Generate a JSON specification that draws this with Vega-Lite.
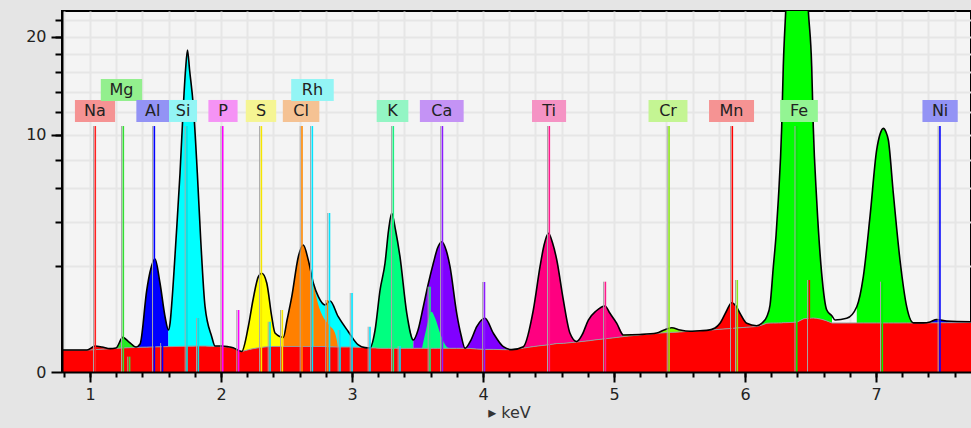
{
"$schema":"https://vega.github.io/schema/vega-lite/v6.json",
"width":909,"height":361,
"autosize":{"type":"none"},
"padding":{"left":62,"top":11,"right":0,"bottom":56},
"background":"#e5e5e5",
"config":{"view":{"stroke":"black","strokeWidth":2,"fill":"#f4f4f4"},"axis":{"labelFont":"DejaVu Sans","titleFont":"DejaVu Sans","labelColor":"#222","titleColor":"#333"}},
"datasets":{
"spec":[
{"e":0.786,"t":0.086,"b":0.086,"s":1,"el":"Na"},{"e":0.977,"t":0.086,"b":0.086,"s":1,"el":"Na"},{"e":1.038,"t":0.120,"b":0.089,"s":1,"el":"Na"},{"e":1.092,"t":0.111,"b":0.093,"s":1,"el":"Na"},{"e":1.153,"t":0.097,"b":0.097,"s":1,"el":"Na"},
{"e":1.153,"t":0.097,"b":0.097,"s":2,"el":"Mg"},{"e":1.198,"t":0.102,"b":0.100,"s":2,"el":"Mg"},{"e":1.250,"t":0.214,"b":0.103,"s":2,"el":"Mg"},{"e":1.298,"t":0.160,"b":0.105,"s":2,"el":"Mg"},{"e":1.351,"t":0.111,"b":0.107,"s":2,"el":"Mg"},
{"e":1.351,"t":0.111,"b":0.107,"s":3,"el":"Al"},{"e":1.382,"t":0.140,"b":0.109,"s":3,"el":"Al"},{"e":1.433,"t":1.197,"b":0.110,"s":3,"el":"Al"},{"e":1.458,"t":1.780,"b":0.111,"s":3,"el":"Al"},{"e":1.496,"t":2.273,"b":0.112,"s":3,"el":"Al"},{"e":1.534,"t":1.410,"b":0.113,"s":3,"el":"Al"},{"e":1.573,"t":0.539,"b":0.114,"s":3,"el":"Al"},{"e":1.598,"t":0.314,"b":0.115,"s":3,"el":"Al"},
{"e":1.598,"t":0.314,"b":0.115,"s":4,"el":"Si"},{"e":1.611,"t":0.427,"b":0.115,"s":4,"el":"Si"},{"e":1.626,"t":0.923,"b":0.115,"s":4,"el":"Si"},{"e":1.656,"t":3.102,"b":0.116,"s":4,"el":"Si"},{"e":1.687,"t":7.050,"b":0.117,"s":4,"el":"Si"},{"e":1.712,"t":12.53,"b":0.117,"s":4,"el":"Si"},{"e":1.729,"t":16.24,"b":0.118,"s":4,"el":"Si"},{"e":1.744,"t":18.46,"b":0.118,"s":4,"el":"Si"},{"e":1.760,"t":16.24,"b":0.119,"s":4,"el":"Si"},{"e":1.789,"t":12.53,"b":0.119,"s":4,"el":"Si"},{"e":1.819,"t":7.050,"b":0.120,"s":4,"el":"Si"},{"e":1.845,"t":3.102,"b":0.120,"s":4,"el":"Si"},{"e":1.878,"t":0.759,"b":0.120,"s":4,"el":"Si"},{"e":1.929,"t":0.222,"b":0.117,"s":4,"el":"Si"},{"e":1.954,"t":0.120,"b":0.116,"s":4,"el":"Si"},
{"e":1.954,"t":0.120,"b":0.116,"s":5,"el":"P"},{"e":2.008,"t":0.120,"b":0.114,"s":5,"el":"P"},{"e":2.053,"t":0.114,"b":0.112,"s":5,"el":"P"},{"e":2.092,"t":0.105,"b":0.105,"s":5,"el":"P"},{"e":2.158,"t":0.075,"b":0.075,"s":5,"el":"P"},
{"e":2.158,"t":0.075,"b":0.075,"s":6,"el":"S"},{"e":2.208,"t":0.365,"b":0.088,"s":6,"el":"S"},{"e":2.244,"t":0.923,"b":0.097,"s":6,"el":"S"},{"e":2.285,"t":1.617,"b":0.104,"s":6,"el":"S"},{"e":2.311,"t":1.734,"b":0.108,"s":6,"el":"S"},{"e":2.349,"t":1.410,"b":0.113,"s":6,"el":"S"},{"e":2.387,"t":0.544,"b":0.116,"s":6,"el":"S"},{"e":2.412,"t":0.271,"b":0.116,"s":6,"el":"S"},{"e":2.476,"t":0.214,"b":0.116,"s":6,"el":"S"},
{"e":2.476,"t":0.214,"b":0.116,"s":7,"el":"Cl"},{"e":2.504,"t":0.481,"b":0.116,"s":7,"el":"Cl"},{"e":2.540,"t":1.009,"b":0.116,"s":7,"el":"Cl"},{"e":2.590,"t":2.367,"b":0.116,"s":7,"el":"Cl"},{"e":2.628,"t":2.871,"b":0.116,"s":7,"el":"Cl"},{"e":2.666,"t":2.233,"b":0.116,"s":7,"el":"Cl"},{"e":2.705,"t":1.401,"b":0.116,"s":7,"el":"Cl"},
{"e":2.705,"t":1.401,"b":0.116,"s":8,"el":"Rh"},{"e":2.743,"t":1.009,"b":0.116,"s":8,"el":"Rh"},{"e":2.794,"t":0.799,"b":0.115,"s":8,"el":"Rh"},{"e":2.832,"t":0.897,"b":0.113,"s":8,"el":"Rh"},{"e":2.895,"t":0.544,"b":0.111,"s":8,"el":"Rh"},{"e":2.972,"t":0.289,"b":0.111,"s":8,"el":"Rh"},{"e":3.048,"t":0.130,"b":0.109,"s":8,"el":"Rh"},{"e":3.099,"t":0.106,"b":0.106,"s":8,"el":"Rh"},{"e":3.137,"t":0.104,"b":0.104,"s":8,"el":"Rh"},
{"e":3.137,"t":0.104,"b":0.104,"s":9,"el":"K"},{"e":3.176,"t":0.314,"b":0.103,"s":9,"el":"K"},{"e":3.214,"t":1.197,"b":0.100,"s":9,"el":"K"},{"e":3.252,"t":2.115,"b":0.100,"s":9,"el":"K"},{"e":3.279,"t":3.590,"b":0.100,"s":9,"el":"K"},{"e":3.303,"t":4.483,"b":0.100,"s":9,"el":"K"},{"e":3.332,"t":3.590,"b":0.100,"s":9,"el":"K"},{"e":3.366,"t":2.367,"b":0.100,"s":9,"el":"K"},{"e":3.418,"t":0.613,"b":0.100,"s":9,"el":"K"},{"e":3.468,"t":0.182,"b":0.100,"s":9,"el":"K"},
{"e":3.468,"t":0.182,"b":0.100,"s":10,"el":"Ca"},{"e":3.504,"t":0.314,"b":0.100,"s":10,"el":"Ca"},{"e":3.544,"t":0.759,"b":0.100,"s":10,"el":"Ca"},{"e":3.580,"t":1.347,"b":0.100,"s":10,"el":"Ca"},{"e":3.621,"t":2.115,"b":0.100,"s":10,"el":"Ca"},{"e":3.653,"t":2.737,"b":0.100,"s":10,"el":"Ca"},{"e":3.685,"t":3.022,"b":0.100,"s":10,"el":"Ca"},{"e":3.718,"t":2.650,"b":0.100,"s":10,"el":"Ca"},{"e":3.748,"t":1.974,"b":0.100,"s":10,"el":"Ca"},{"e":3.799,"t":0.613,"b":0.100,"s":10,"el":"Ca"},{"e":3.832,"t":0.244,"b":0.100,"s":10,"el":"Ca"},{"e":3.863,"t":0.100,"b":0.100,"s":10,"el":"Ca"},{"e":3.908,"t":0.182,"b":0.098,"s":10,"el":"Ca"},{"e":3.952,"t":0.365,"b":0.094,"s":10,"el":"Ca"},{"e":4.015,"t":0.513,"b":0.091,"s":10,"el":"Ca"},{"e":4.079,"t":0.267,"b":0.091,"s":10,"el":"Ca"},{"e":4.155,"t":0.114,"b":0.089,"s":10,"el":"Ca"},{"e":4.219,"t":0.089,"b":0.089,"s":10,"el":"Ca"},
{"e":4.219,"t":0.089,"b":0.089,"s":11,"el":"Ti"},{"e":4.308,"t":0.114,"b":0.102,"s":11,"el":"Ti"},{"e":4.384,"t":0.684,"b":0.115,"s":11,"el":"Ti"},{"e":4.435,"t":1.974,"b":0.123,"s":11,"el":"Ti"},{"e":4.466,"t":2.871,"b":0.127,"s":11,"el":"Ti"},{"e":4.499,"t":3.425,"b":0.132,"s":11,"el":"Ti"},{"e":4.531,"t":2.963,"b":0.138,"s":11,"el":"Ti"},{"e":4.563,"t":2.233,"b":0.144,"s":11,"el":"Ti"},{"e":4.613,"t":0.923,"b":0.146,"s":11,"el":"Ti"},{"e":4.664,"t":0.267,"b":0.153,"s":11,"el":"Ti"},{"e":4.715,"t":0.165,"b":0.160,"s":11,"el":"Ti"},{"e":4.756,"t":0.244,"b":0.166,"s":11,"el":"Ti"},{"e":4.804,"t":0.481,"b":0.173,"s":11,"el":"Ti"},{"e":4.863,"t":0.662,"b":0.185,"s":11,"el":"Ti"},{"e":4.931,"t":0.776,"b":0.196,"s":11,"el":"Ti"},{"e":4.969,"t":0.613,"b":0.203,"s":11,"el":"Ti"},{"e":5.021,"t":0.422,"b":0.213,"s":11,"el":"Ti"},{"e":5.071,"t":0.244,"b":0.223,"s":11,"el":"Ti"},
{"e":5.071,"t":0.244,"b":0.223,"s":12,"el":"Cr"},{"e":5.198,"t":0.250,"b":0.245,"s":12,"el":"Cr"},{"e":5.326,"t":0.270,"b":0.267,"s":12,"el":"Cr"},{"e":5.382,"t":0.314,"b":0.274,"s":12,"el":"Cr"},{"e":5.440,"t":0.349,"b":0.279,"s":12,"el":"Cr"},{"e":5.504,"t":0.314,"b":0.286,"s":12,"el":"Cr"},{"e":5.580,"t":0.295,"b":0.295,"s":12,"el":"Cr"},{"e":5.656,"t":0.304,"b":0.304,"s":12,"el":"Cr"},
{"e":5.656,"t":0.304,"b":0.304,"s":13,"el":"Mn"},{"e":5.708,"t":0.308,"b":0.308,"s":13,"el":"Mn"},{"e":5.771,"t":0.345,"b":0.319,"s":13,"el":"Mn"},{"e":5.809,"t":0.422,"b":0.325,"s":13,"el":"Mn"},{"e":5.855,"t":0.641,"b":0.332,"s":13,"el":"Mn"},{"e":5.898,"t":0.855,"b":0.338,"s":13,"el":"Mn"},{"e":5.931,"t":0.776,"b":0.345,"s":13,"el":"Mn"},{"e":5.962,"t":0.613,"b":0.349,"s":13,"el":"Mn"},{"e":6.013,"t":0.422,"b":0.357,"s":13,"el":"Mn"},{"e":6.089,"t":0.382,"b":0.369,"s":13,"el":"Mn"},{"e":6.130,"t":0.427,"b":0.393,"s":13,"el":"Mn"},
{"e":6.130,"t":0.427,"b":0.393,"s":14,"el":"Fe"},{"e":6.166,"t":0.544,"b":0.424,"s":14,"el":"Fe"},{"e":6.191,"t":0.799,"b":0.426,"s":14,"el":"Fe"},{"e":6.216,"t":1.974,"b":0.427,"s":14,"el":"Fe"},{"e":6.237,"t":3.341,"b":0.427,"s":14,"el":"Fe"},{"e":6.254,"t":5.266,"b":0.429,"s":14,"el":"Fe"},{"e":6.280,"t":10.71,"b":0.429,"s":14,"el":"Fe"},{"e":6.292,"t":16.59,"b":0.433,"s":14,"el":"Fe"},{"e":6.311,"t":23.33,"b":0.433,"s":14,"el":"Fe"},{"e":6.344,"t":37.3,"b":0.436,"s":14,"el":"Fe"},{"e":6.397,"t":50,"b":0.445,"s":14,"el":"Fe"},{"e":6.450,"t":37.3,"b":0.506,"s":14,"el":"Fe"},{"e":6.483,"t":23.33,"b":0.511,"s":14,"el":"Fe"},{"e":6.509,"t":16.59,"b":0.517,"s":14,"el":"Fe"},{"e":6.521,"t":10.71,"b":0.519,"s":14,"el":"Fe"},{"e":6.547,"t":5.266,"b":0.513,"s":14,"el":"Fe"},{"e":6.585,"t":1.734,"b":0.494,"s":14,"el":"Fe"},{"e":6.624,"t":0.684,"b":0.465,"s":14,"el":"Fe"},{"e":6.664,"t":0.558,"b":0.427,"s":14,"el":"Fe"},
{"e":6.664,"t":0.558,"b":0.427,"s":15,"el":"none"},{"e":6.687,"t":0.481,"b":0.427,"s":15,"el":"none"},{"e":6.776,"t":0.513,"b":0.427,"s":15,"el":"none"},{"e":6.853,"t":0.759,"b":0.428,"s":15,"el":"none"},
{"e":6.853,"t":0.759,"b":0.428,"s":16,"el":"Fe"},{"e":6.903,"t":1.617,"b":0.428,"s":16,"el":"Fe"},{"e":6.954,"t":4.294,"b":0.428,"s":16,"el":"Fe"},{"e":7.005,"t":8.774,"b":0.428,"s":16,"el":"Fe"},{"e":7.031,"t":10.08,"b":0.428,"s":16,"el":"Fe"},{"e":7.056,"t":10.57,"b":0.428,"s":16,"el":"Fe"},{"e":7.076,"t":10.25,"b":0.428,"s":16,"el":"Fe"},{"e":7.094,"t":9.582,"b":0.428,"s":16,"el":"Fe"},{"e":7.132,"t":5.685,"b":0.428,"s":16,"el":"Fe"},{"e":7.183,"t":2.233,"b":0.428,"s":16,"el":"Fe"},{"e":7.234,"t":0.759,"b":0.429,"s":16,"el":"Fe"},{"e":7.285,"t":0.429,"b":0.429,"s":16,"el":"Fe"},
{"e":7.285,"t":0.429,"b":0.429,"s":17,"el":"Ni"},{"e":7.361,"t":0.429,"b":0.429,"s":17,"el":"Ni"},{"e":7.412,"t":0.445,"b":0.431,"s":17,"el":"Ni"},{"e":7.463,"t":0.491,"b":0.431,"s":17,"el":"Ni"},{"e":7.540,"t":0.463,"b":0.433,"s":17,"el":"Ni"},{"e":7.725,"t":0.450,"b":0.436,"s":17,"el":"Ni"}
],
"ov":[
{"e":3.534,"t":0.100,"b":0.100,"s":21,"el":"K"},{"e":3.565,"t":0.314,"b":0.100,"s":21,"el":"K"},{"e":3.607,"t":0.647,"b":0.100,"s":21,"el":"K"},{"e":3.634,"t":0.519,"b":0.100,"s":21,"el":"K"},{"e":3.672,"t":0.271,"b":0.100,"s":21,"el":"K"},{"e":3.723,"t":0.114,"b":0.100,"s":21,"el":"K"},{"e":3.748,"t":0.100,"b":0.100,"s":21,"el":"K"},
{"e":2.705,"t":1.401,"b":0.116,"s":22,"el":"Cl"},{"e":2.743,"t":0.799,"b":0.116,"s":22,"el":"Cl"},{"e":2.794,"t":0.481,"b":0.115,"s":22,"el":"Cl"},{"e":2.832,"t":0.377,"b":0.113,"s":22,"el":"Cl"},{"e":2.870,"t":0.271,"b":0.112,"s":22,"el":"Cl"},{"e":2.893,"t":0.116,"b":0.111,"s":22,"el":"Cl"}
],
"lines":[
{"el":"Na","e":1.040,"top":10.77},{"el":"Mg","e":1.254,"top":10.77},{"el":"Al","e":1.491,"top":10.77},{"el":"Si","e":1.740,"top":10.77},{"el":"P","e":2.013,"top":10.77},{"el":"S","e":2.308,"top":10.77},{"el":"Cl","e":2.618,"top":10.77},{"el":"Rh","e":2.697,"top":10.77},{"el":"K","e":3.315,"top":10.77},{"el":"Ca","e":3.690,"top":10.77},{"el":"Ti","e":4.506,"top":10.77},{"el":"Cr","e":5.420,"top":10.77},{"el":"Mn","e":5.903,"top":10.77},{"el":"Fe","e":6.395,"top":10.77},{"el":"Ni","e":7.488,"top":10.77},
{"el":"Mg","e":1.302,"top":0.042},{"el":"Al","e":1.553,"top":0.150},{"el":"Si","e":1.827,"top":0.519},{"el":"P","e":2.134,"top":0.684},{"el":"Rh","e":2.374,"top":0.450},{"el":"S","e":2.468,"top":0.684},{"el":"Cl","e":2.813,"top":0.923},{"el":"Rh","e":2.828,"top":4.50},{"el":"Rh","e":2.908,"top":0.314},{"el":"Rh","e":3.000,"top":1.111},{"el":"Rh","e":3.137,"top":0.365},{"el":"Rh","e":3.366,"top":0.12},{"el":"K","e":3.595,"top":1.295},{"el":"Ca","e":4.011,"top":1.442},{"el":"Ti","e":4.934,"top":1.452},{"el":"Cr","e":5.941,"top":1.507},{"el":"Mn","e":6.491,"top":1.507},{"el":"Fe","e":7.048,"top":1.452}
],
"labels":[
{"el":"Na","e":1.038,"ly":12.13},{"el":"Mg","e":1.240,"ly":14.16},{"el":"Al","e":1.479,"ly":12.13},{"el":"Si","e":1.710,"ly":12.13},{"el":"P","e":2.015,"ly":12.13},{"el":"S","e":2.305,"ly":12.13},{"el":"Cl","e":2.611,"ly":12.13},{"el":"Rh","e":2.698,"ly":14.16},{"el":"K","e":3.309,"ly":12.13},{"el":"Ca","e":3.685,"ly":12.13},{"el":"Ti","e":4.504,"ly":12.13},{"el":"Cr","e":5.412,"ly":12.13},{"el":"Mn","e":5.897,"ly":12.13},{"el":"Fe","e":6.412,"ly":12.13},{"el":"Ni","e":7.489,"ly":12.13}
]
},
"resolve":{"scale":{"color":"independent","size":"independent"},"axis":{"x":"independent","y":"independent"}},
"layer":[
{"data":{"name":"spec"},"mark":{"type":"area","color":"#ff0000","clip":true},
 "encoding":{
  "x":{"field":"e","type":"quantitative","scale":{"domain":[0.786,7.725],"nice":false,"zero":false},
   "axis":{"orient":"bottom","values":[1,2,3,4,5,6,7],"tickSize":10,"tickWidth":2,"tickColor":"black","domainColor":"black","domainWidth":2,"labelFontSize":16,"labelPadding":4,"grid":false,"zindex":1,"title":"▸ keV","titleFontSize":16,"titleFontWeight":"normal","titlePadding":2,"titleX":447}},
  "y":{"field":"b","type":"quantitative","stack":null,"scale":{"type":"sqrt","domain":[0,23.2],"nice":false},
   "axis":{"orient":"left","values":[0,10,20],"tickSize":11,"tickWidth":2,"tickColor":"black","domainColor":"black","domainWidth":2,"labelFontSize":16,"labelPadding":5,"grid":false,"zindex":1,"title":null}}
 }},
{"data":{"name":"spec"},"mark":{"type":"area","clip":true,"interpolate":"monotone"},
 "encoding":{
  "x":{"field":"e","type":"quantitative","scale":{"domain":[0.786,7.725],"nice":false,"zero":false},
   "axis":{"orient":"bottom","values":[0.8,1,1.2,1.4,1.6,1.8,2,2.2,2.4,2.6,2.8,3,3.2,3.4,3.6,3.8,4,4.2,4.4,4.6,4.8,5,5.2,5.4,5.6,5.8,6,6.2,6.4,6.6,6.8,7,7.2,7.4,7.6],"tickSize":5,"tickWidth":2,"tickColor":"black","domain":false,"labels":false,"grid":true,"gridColor":"#e6e6e6","gridWidth":2,"zindex":0,"title":null}},
  "y":{"field":"t","type":"quantitative","stack":null,"scale":{"type":"sqrt","domain":[0,23.2],"nice":false},
   "axis":{"orient":"left","values":[2,4,6,8,10,12,14,16,18,20,22],"tickSize":7,"tickWidth":2,"tickColor":"black","domain":false,"labels":false,"grid":true,"gridColor":"#e6e6e6","gridWidth":2,"zindex":0,"title":null}},
  "y2":{"field":"b"},
  "color":{"field":"el","type":"nominal","legend":null,"scale":{"domain":["Na","Mg","Al","Si","P","S","Cl","Rh","K","Ca","Ti","Cr","Mn","Fe","Ni","none"],"range":["#ff0000","#22ee22","#0000ff","#00ffff","#ff00ff","#ffff00","#ff8000","#00ffff","#00ff80","#8000ff","#ff0080","#80ff00","#ff0000","#00ff00","#0000ff","rgba(0,0,0,0)"]}},
  "detail":{"field":"s","type":"nominal"}
 }},
{"data":{"name":"ov"},"mark":{"type":"area","clip":true,"interpolate":"monotone"},
 "encoding":{
  "x":{"field":"e","type":"quantitative","scale":{"domain":[0.786,7.725],"nice":false,"zero":false},"axis":null},
  "y":{"field":"t","type":"quantitative","stack":null,"scale":{"type":"sqrt","domain":[0,23.2],"nice":false},"axis":null},
  "y2":{"field":"b"},
  "color":{"field":"el","type":"nominal","legend":null,"scale":{"domain":["Cl","K"],"range":["#ff8000","#00ff80"]}},
  "detail":{"field":"s","type":"nominal"}
 }},
{"data":{"name":"spec"},"mark":{"type":"line","color":"#9a9a9a","strokeWidth":1,"clip":true},
 "encoding":{
  "x":{"field":"e","type":"quantitative","scale":{"domain":[0.786,7.725],"nice":false,"zero":false},"axis":null},
  "y":{"field":"b","type":"quantitative","scale":{"type":"sqrt","domain":[0,23.2],"nice":false},"axis":null}
 }},
{"data":{"name":"spec"},"mark":{"type":"line","color":"#000000","strokeWidth":1.6,"clip":true,"interpolate":"monotone"},
 "encoding":{
  "x":{"field":"e","type":"quantitative","scale":{"domain":[0.786,7.725],"nice":false,"zero":false},"axis":null},
  "y":{"field":"t","type":"quantitative","scale":{"type":"sqrt","domain":[0,23.2],"nice":false},"axis":null}
 }},
{"data":{"name":"lines"},"mark":{"type":"rule","color":"#a8a8a8","strokeWidth":1,"xOffset":-1.8},
 "encoding":{
  "x":{"field":"e","type":"quantitative","scale":{"domain":[0.786,7.725],"nice":false,"zero":false},"axis":null},
  "y":{"field":"top","type":"quantitative","scale":{"type":"sqrt","domain":[0,23.2],"nice":false},"axis":null},
  "y2":{"datum":0}
 }},
{"data":{"name":"lines"},"mark":{"type":"rule","strokeWidth":1.6},
 "encoding":{
  "x":{"field":"e","type":"quantitative","scale":{"domain":[0.786,7.725],"nice":false,"zero":false},"axis":null},
  "y":{"field":"top","type":"quantitative","scale":{"type":"sqrt","domain":[0,23.2],"nice":false},"axis":null},
  "y2":{"datum":0},
  "color":{"field":"el","type":"nominal","legend":null,"scale":{"domain":["Na","Mg","Al","Si","P","S","Cl","Rh","K","Ca","Ti","Cr","Mn","Fe","Ni"],"range":["#ff2222","#33dd33","#0000ff","#00e5e5","#ff00ff","#f5e600","#ff8800","#00e5ff","#1aee80","#8c1aff","#ff1a8c","#8ce61a","#ff0000","#00ee00","#0000ff"]}}
 }},
{"data":{"name":"labels"},"mark":{"type":"tick","orient":"horizontal","thickness":22,"opacity":1},
 "encoding":{
  "x":{"field":"e","type":"quantitative","scale":{"domain":[0.786,7.725],"nice":false,"zero":false},"axis":null},
  "y":{"field":"ly","type":"quantitative","scale":{"type":"sqrt","domain":[0,23.2],"nice":false},"axis":null},
  "size":{"field":"el","type":"ordinal","legend":null,"scale":{"type":"point","padding":0,"domain":["Si","P","S","K","Al","Ti","Ni","Cl","Fe","Cr","Na","Mg","Rh","Ca","Mn"],"range":[28,45]}},
  "color":{"field":"el","type":"nominal","legend":null,"scale":{"domain":["Na","Mg","Al","Si","P","S","Cl","Rh","K","Ca","Ti","Cr","Mn","Fe","Ni"],"range":["#f59393","#93ef8e","#9393f5","#93f5f5","#f593f5","#f5f593","#f5c293","#93f5f5","#93f5c4","#c493f5","#f593c4","#c4f593","#f59393","#93f593","#9393f5"]}}
 }},
{"data":{"name":"labels"},"mark":{"type":"text","fill":"#222222","font":"DejaVu Sans","fontSize":16,"align":"center","baseline":"middle"},
 "encoding":{
  "x":{"field":"e","type":"quantitative","scale":{"domain":[0.786,7.725],"nice":false,"zero":false},"axis":null},
  "y":{"field":"ly","type":"quantitative","scale":{"type":"sqrt","domain":[0,23.2],"nice":false},"axis":null},
  "text":{"field":"el","type":"nominal"}
 }}
]
}
